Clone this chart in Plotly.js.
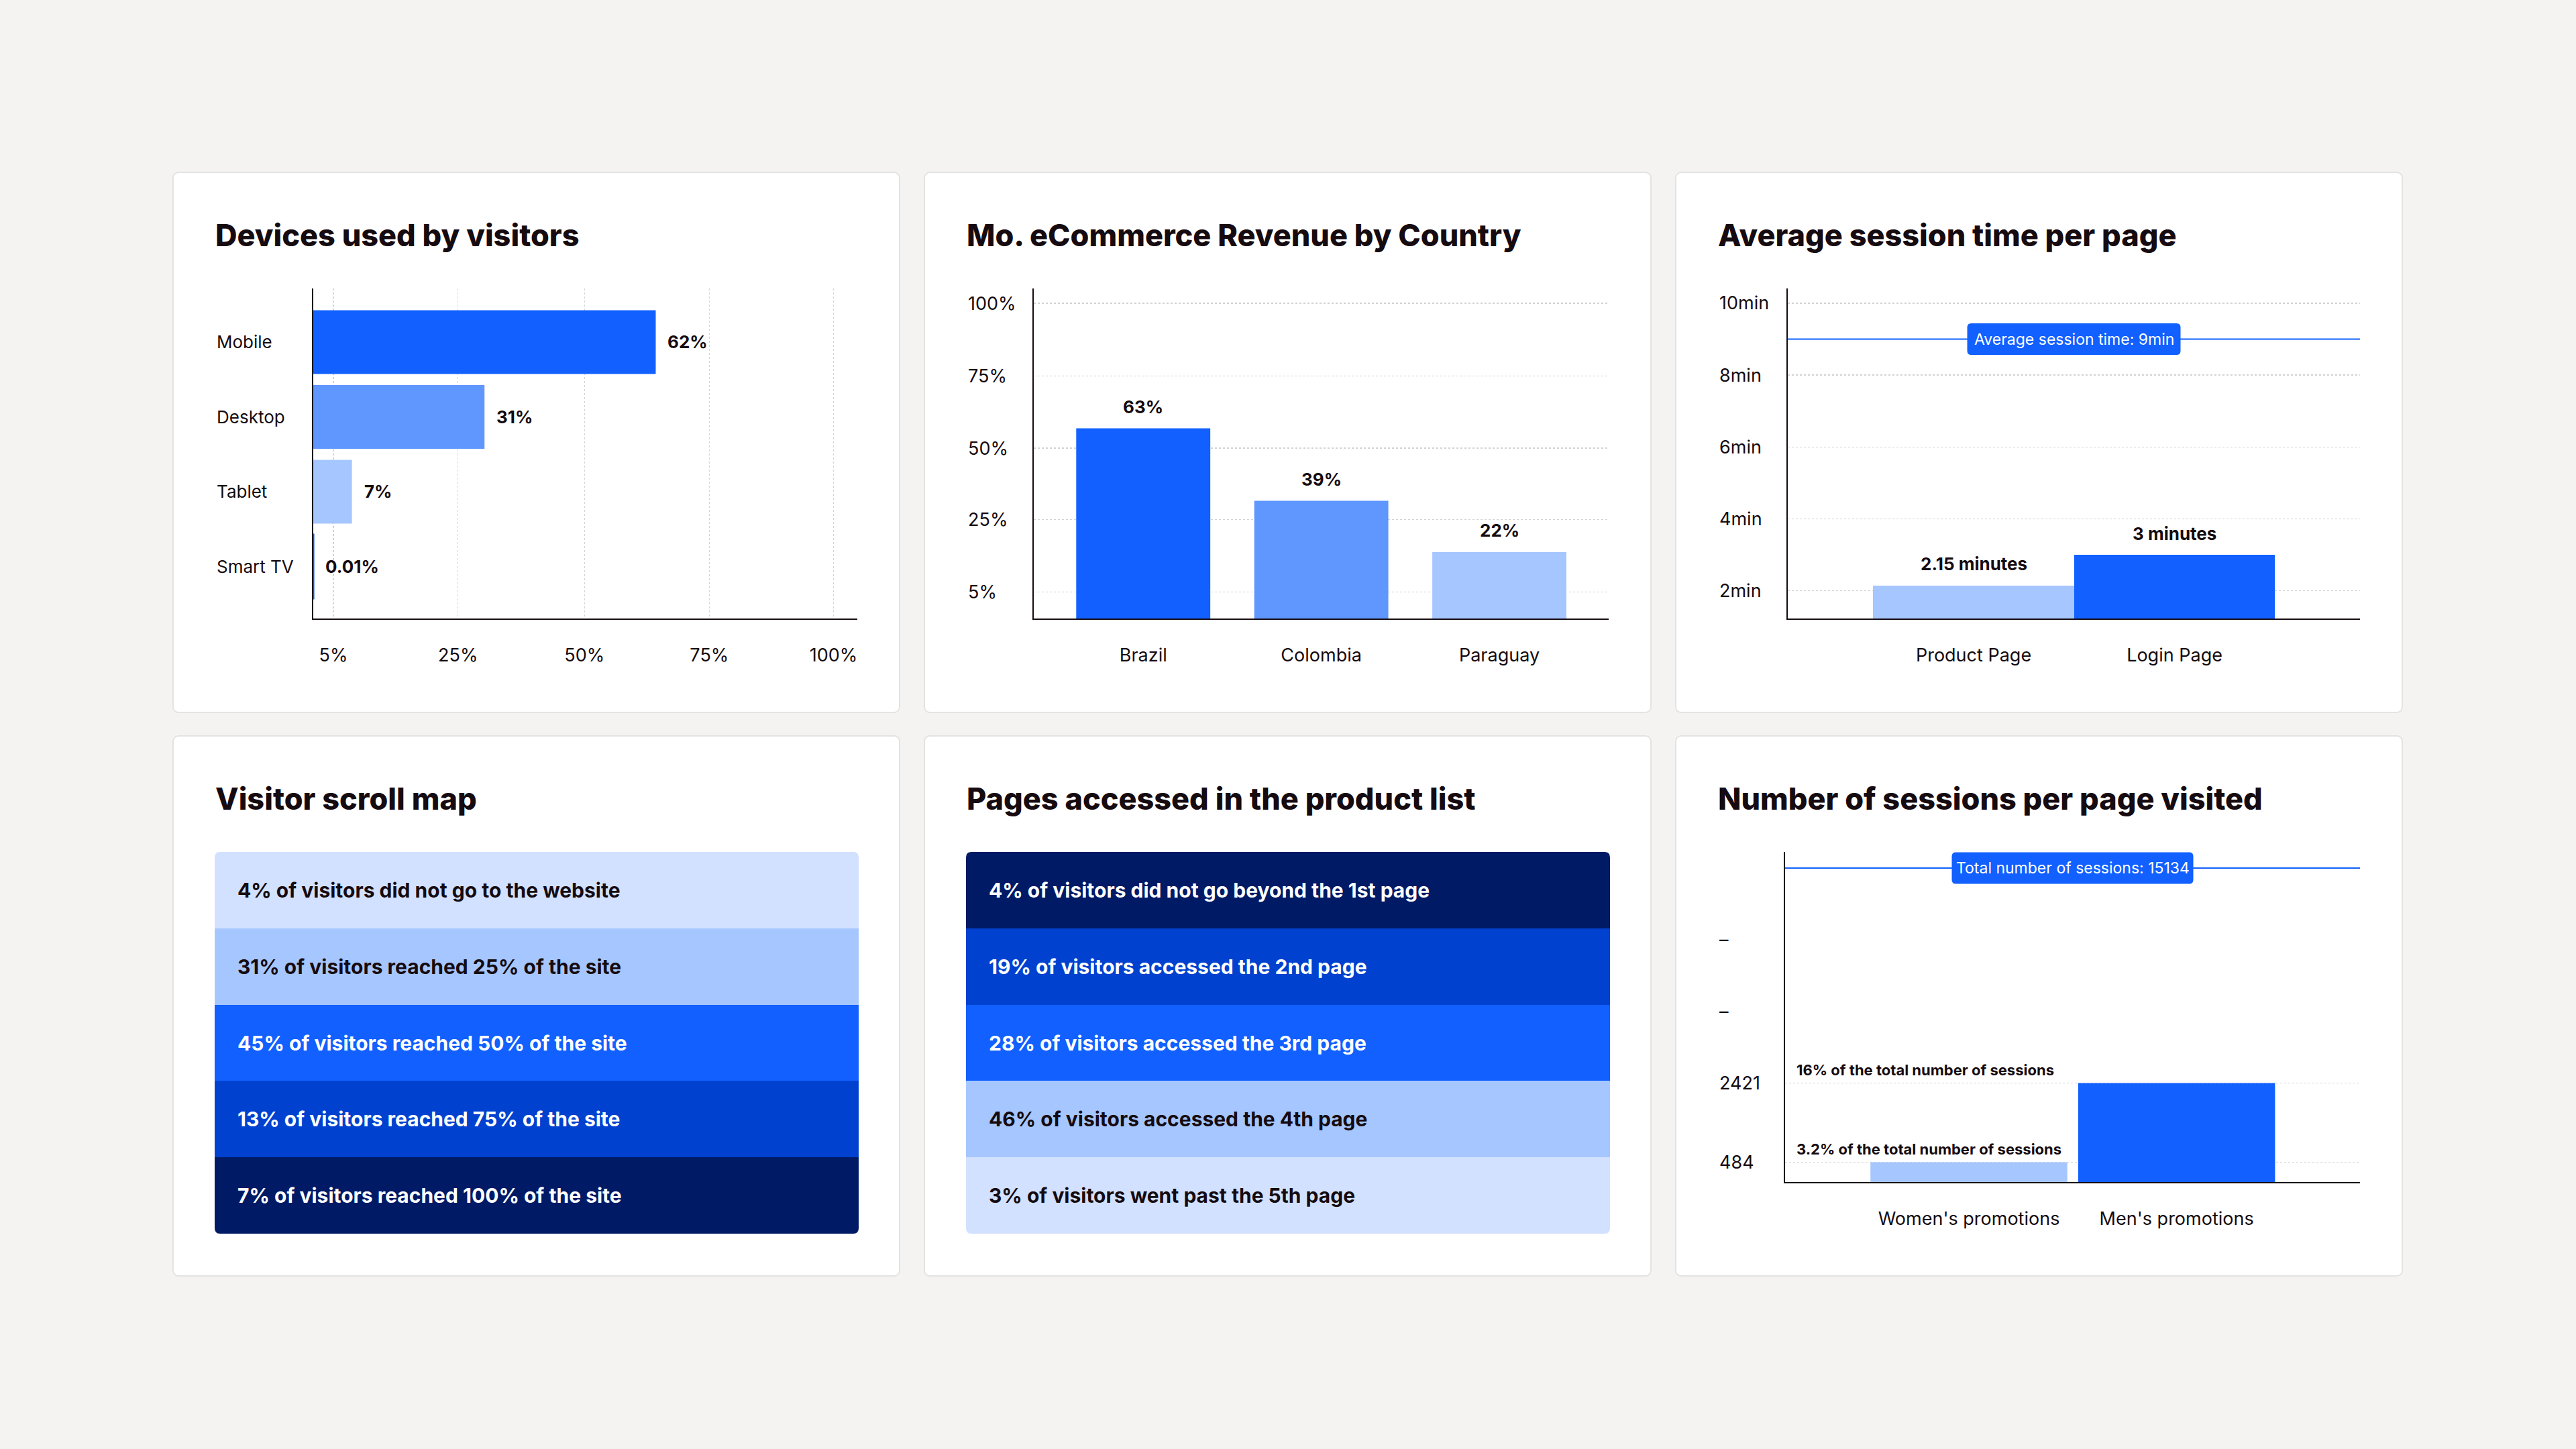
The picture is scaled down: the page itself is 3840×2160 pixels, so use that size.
<!DOCTYPE html>
<html>
<head>
<meta charset="utf-8">
<script src="https://cdn.plot.ly/plotly-3.0.1.min.js"></script>
<style>
  html, body { margin: 0; padding: 0; }
  body { width: 3840px; height: 2160px; background: #f4f3f1; position: relative; overflow: hidden; }
  .card { position: absolute; width: 1085px; height: 807px; box-sizing: border-box; background: #ffffff; border: 2px solid #e4e3e1; border-radius: 9px; }
  .plot { position: absolute; width: 1085px; height: 807px; }
</style>
</head>
<body>
<div class="card" style="left:257px;top:256px"></div>
<div class="card" style="left:1377px;top:256px"></div>
<div class="card" style="left:2497px;top:256px"></div>
<div class="card" style="left:257px;top:1096px"></div>
<div class="card" style="left:1377px;top:1096px"></div>
<div class="card" style="left:2497px;top:1096px"></div>
<div id="p1" class="plot" style="left:257px;top:256px"></div>
<div id="p2" class="plot" style="left:1377px;top:256px"></div>
<div id="p3" class="plot" style="left:2497px;top:256px"></div>
<div id="p4" class="plot" style="left:257px;top:1096px"></div>
<div id="p5" class="plot" style="left:1377px;top:1096px"></div>
<div id="p6" class="plot" style="left:2497px;top:1096px"></div>
<script>
// ---------------- DATA ----------------
const deviceNames = ['Mobile', 'Desktop', 'Tablet', 'Smart TV'];
const deviceShares = [62, 31, 7, 0.01];
const deviceTickLabels = ['5%', '25%', '50%', '75%', '100%'];

const countries = ['Brazil', 'Colombia', 'Paraguay'];
const countryRevenue = [63, 39, 22];
const revenueTickLabels = ['5%', '25%', '50%', '75%', '100%'];

const sessionPages = ['Product Page', 'Login Page'];
const sessionMinutes = [2.15, 3];
const sessionValueLabels = ['2.15 minutes', '3 minutes'];
const avgSessionMinutes = 9;
const sessionTickValues = [2, 4, 6, 8, 10];
const sessionTickLabels = ['2min', '4min', '6min', '8min', '10min'];

const scrollRows = [
  '4% of visitors did not go to the website',
  '31% of visitors reached 25% of the site',
  '45% of visitors reached 50% of the site',
  '13% of visitors reached 75% of the site',
  '7% of visitors reached 100% of the site'
];
const productListRows = [
  '4% of visitors did not go beyond the 1st page',
  '19% of visitors accessed the 2nd page',
  '28% of visitors accessed the 3rd page',
  '46% of visitors accessed the 4th page',
  '3% of visitors went past the 5th page'
];

const promoPages = ["Women's promotions", "Men's promotions"];
const promoSessions = [484, 2421];
const promoShares = ['3.2%', '16%'];
const totalSessions = 15134;
const promoTickLabels = ['484', '2421', '\u2013', '\u2013'];

// ---------------- STYLE ----------------
const TXT = '#150b10';
const BLUE = '#1160ff';
const BLUE_MID = '#5f97ff';
const BLUE_LIGHT = '#a6c6ff';
const BLUE_PALE = '#d2e1ff';
const BLUE_ROYAL = '#0042cf';
const NAVY = '#001a66';
const GRID = '#d2d2d2';
const FONT = 'Inter, "Noto Sans", sans-serif';
const W = 1085, H = 807;
const config = { staticPlot: true, displayModeBar: false };

function baseLayout(title, l, r, t, b) {
  return {
    width: W, height: H,
    margin: { l: l, r: r, t: t, b: b, pad: 0 },
    paper_bgcolor: 'rgba(0,0,0,0)',
    plot_bgcolor: 'rgba(0,0,0,0)',
    showlegend: false,
    font: { family: FONT, color: TXT, size: 27 },
    title: {
      text: title, xref: 'container', yref: 'container',
      x: 64 / W, xanchor: 'left', y: 1 - 95 / H, yanchor: 'middle',
      font: { family: FONT, size: 45, weight: 800, color: TXT }
    },
    annotations: [], shapes: []
  };
}
function valueAxis(extra) {
  return Object.assign({
    showline: true, linecolor: TXT, linewidth: 2,
    showgrid: true, gridcolor: GRID, gridwidth: 1.5, griddash: 'dot',
    zeroline: false, ticks: '', showticklabels: false, fixedrange: true
  }, extra);
}
function catAxis(extra) {
  return Object.assign({
    type: 'category', showline: true, linecolor: TXT, linewidth: 2,
    showgrid: false, zeroline: false, ticks: '', fixedrange: true,
    tickfont: { family: FONT, size: 27, color: TXT }, ticklabelstandoff: 30
  }, extra);
}
function leftLabel(text, y, plotLeft, plotW, size, weight) {
  return {
    xref: 'paper', yref: 'y', x: (64 - plotLeft) / plotW, y: y,
    xanchor: 'left', yanchor: 'middle', text: text, showarrow: false,
    font: { family: FONT, size: size || 27, weight: weight || 400, color: TXT }
  };
}
// rounded box (pixel-sized) centred on an anchor point
function roundedBox(xref, yref, xa, ya, w, h, r, color) {
  const a = w / 2, b = h / 2;
  const p = 'M ' + (-a + r) + ',' + (-b) + ' L ' + (a - r) + ',' + (-b) + ' Q ' + a + ',' + (-b) + ' ' + a + ',' + (-b + r) +
    ' L ' + a + ',' + (b - r) + ' Q ' + a + ',' + b + ' ' + (a - r) + ',' + b +
    ' L ' + (-a + r) + ',' + b + ' Q ' + (-a) + ',' + b + ' ' + (-a) + ',' + (b - r) +
    ' L ' + (-a) + ',' + (-b + r) + ' Q ' + (-a) + ',' + (-b) + ' ' + (-a + r) + ',' + (-b) + ' Z';
  return { type: 'path', xref: xref, yref: yref, xsizemode: 'pixel', ysizemode: 'pixel', xanchor: xa, yanchor: ya,
    path: p, fillcolor: color, line: { width: 0 }, layer: 'above' };
}

// ---------- Panel 1: Devices used by visitors ----------
(function () {
  const l = 210, r = 64, plotW = W - l - r;
  const lay = baseLayout('Devices used by visitors', l, r, 174, 141);
  lay.bargap = 0.148;
  lay.xaxis = valueAxis({ range: [0, 98.5], tickvals: [3.65, 26.2, 49.1, 71.7, 94.2], ticktext: deviceTickLabels,
    showticklabels: true, tickfont: { family: FONT, size: 27, color: TXT }, ticklabelstandoff: 30 });
  lay.yaxis = catAxis({ range: [3.695, -0.717], showticklabels: false });
  deviceNames.forEach((n, i) => {
    lay.annotations.push(leftLabel(n, n, l, plotW, 26));
    lay.annotations.push({ xref: 'x', yref: 'y', x: deviceShares[i], y: n, xanchor: 'left', yanchor: 'middle',
      xshift: 16, text: deviceShares[i] + '%', showarrow: false,
      font: { family: FONT, size: 26, weight: 700, color: TXT } });
  });
  Plotly.newPlot('p1', [{
    type: 'bar', orientation: 'h', y: deviceNames, x: deviceShares,
    marker: { color: [BLUE, BLUE_MID, BLUE_LIGHT, BLUE], line: { width: [0, 0, 0, 3], color: BLUE } }, hoverinfo: 'skip'
  }], lay, config);
})();

// ---------- Panel 2: Revenue by country ----------
(function () {
  const l = 164, r = 64, plotW = W - l - r;
  const lay = baseLayout('Mo. eCommerce Revenue by Country', l, r, 174, 141);
  lay.bargap = 0.247;
  const ticks = [8.8, 32.8, 56.4, 80.3, 104.4];
  lay.xaxis = catAxis({ range: [-0.615, 2.614] });
  lay.yaxis = valueAxis({ range: [0, 109.3], tickvals: ticks });
  ticks.forEach((t, i) => lay.annotations.push(leftLabel(revenueTickLabels[i], t, l, plotW)));
  countries.forEach((c, i) => lay.annotations.push({ x: c, y: countryRevenue[i], xref: 'x', yref: 'y',
    yanchor: 'middle', yshift: 32, text: countryRevenue[i] + '%', showarrow: false,
    font: { family: FONT, size: 26, weight: 700, color: TXT } }));
  Plotly.newPlot('p2', [{
    type: 'bar', x: countries, y: countryRevenue,
    marker: { color: [BLUE, BLUE_MID, BLUE_LIGHT] }, hoverinfo: 'skip'
  }], lay, config);
})();

// ---------- Panel 3: Average session time ----------
(function () {
  const l = 168, r = 64, plotW = W - l - r;
  const lay = baseLayout('Average session time per page', l, r, 174, 141);
  lay.bargap = 0;
  lay.xaxis = catAxis({ range: [-0.925, 1.923] });
  lay.yaxis = valueAxis({ range: [1.23, 10.41], tickvals: sessionTickValues });
  sessionTickValues.forEach((t, i) => lay.annotations.push(leftLabel(sessionTickLabels[i], t, l, plotW)));
  sessionPages.forEach((p, i) => lay.annotations.push({ x: p, y: sessionMinutes[i], xref: 'x', yref: 'y',
    yanchor: 'middle', yshift: 32, text: sessionValueLabels[i], showarrow: false,
    font: { family: FONT, size: 26, weight: 700, color: TXT } }));
  lay.shapes.push({ type: 'line', xref: 'x domain', yref: 'y', x0: 0, x1: 1, y0: avgSessionMinutes, y1: avgSessionMinutes,
    line: { color: BLUE, width: 2 }, layer: 'above' });
  lay.shapes.push(roundedBox('x domain', 'y', 0.5, avgSessionMinutes, 318, 47, 6, BLUE));
  lay.annotations.push({ xref: 'x domain', yref: 'y', x: 0.5, y: avgSessionMinutes, xanchor: 'center', yanchor: 'middle',
    text: 'Average session time: ' + avgSessionMinutes + 'min', showarrow: false,
    font: { family: FONT, size: 23, color: '#ffffff' } });
  Plotly.newPlot('p3', [{
    type: 'bar', x: sessionPages, y: sessionMinutes,
    marker: { color: [BLUE_LIGHT, BLUE] }, hoverinfo: 'skip'
  }], lay, config);
})();

// ---------- Panels 4 & 5: stacked row maps ----------
function rowMap(div, title, rows, colors, textColors) {
  const n = rows.length;
  const idx = rows.map((_, i) => i);
  const lay = baseLayout(title, 63, 62, 174, 63.5);
  lay.xaxis = { range: [-0.5, 0.5], visible: false, fixedrange: true };
  lay.yaxis = { range: [n - 0.5, -0.5], visible: false, fixedrange: true };
  rows.forEach((t, i) => lay.annotations.push({ xref: 'x domain', yref: 'y', x: 0, y: i, xanchor: 'left', yanchor: 'middle',
    xshift: 32, text: t, showarrow: false, font: { family: FONT, size: 30, weight: 700, color: textColors[i] } }));
  // rounded outer corners (white corner masks)
  const rx = 8 / 960, ry = 8 / 569.5;
  const corners = [
    'M 0,' + (1 - ry) + ' L 0,1 L ' + rx + ',1 Q 0,1 0,' + (1 - ry) + ' Z',
    'M ' + (1 - rx) + ',1 L 1,1 L 1,' + (1 - ry) + ' Q 1,1 ' + (1 - rx) + ',1 Z',
    'M 0,' + ry + ' L 0,0 L ' + rx + ',0 Q 0,0 0,' + ry + ' Z',
    'M ' + (1 - rx) + ',0 L 1,0 L 1,' + ry + ' Q 1,0 ' + (1 - rx) + ',0 Z'
  ];
  corners.forEach(p => lay.shapes.push({ type: 'path', xref: 'x domain', yref: 'y domain', path: p,
    fillcolor: '#ffffff', line: { width: 0 }, layer: 'above' }));
  Plotly.newPlot(div, [{
    type: 'heatmap', x: [0], y: idx, z: idx.map(i => [i]),
    colorscale: colors.map((c, i) => [i / (n - 1), c]), zmin: 0, zmax: n - 1,
    showscale: false, hoverinfo: 'skip', xgap: 0, ygap: 0
  }], lay, config);
}
rowMap('p4', 'Visitor scroll map', scrollRows,
  [BLUE_PALE, BLUE_LIGHT, BLUE, BLUE_ROYAL, NAVY], [TXT, TXT, '#ffffff', '#ffffff', '#ffffff']);
rowMap('p5', 'Pages accessed in the product list', productListRows,
  [NAVY, BLUE_ROYAL, BLUE, BLUE_LIGHT, BLUE_PALE], ['#ffffff', '#ffffff', '#ffffff', TXT, TXT]);

// ---------- Panel 6: Sessions per page ----------
(function () {
  const l = 164, r = 64, plotW = W - l - r;
  const lay = baseLayout('Number of sessions per page visited', l, r, 174, 141);
  lay.bargap = 0.052;
  const yMax = promoSessions[1] / 0.2998;
  const totalLineFrac = 0.951;
  const lineVal = totalLineFrac * yMax;
  const step = (lineVal - promoSessions[1]) / 3;
  const tickPos = [promoSessions[0], promoSessions[1], promoSessions[1] + step, promoSessions[1] + 2 * step];
  lay.xaxis = catAxis({ range: [-0.885, 1.883] });
  lay.yaxis = valueAxis({ range: [0, yMax], tickvals: promoSessions });
  tickPos.forEach((t, i) => lay.annotations.push(leftLabel(promoTickLabels[i], t, l, plotW)));
  promoSessions.forEach((v, i) => lay.annotations.push({ xref: 'x domain', yref: 'y', x: 0, y: v,
    xanchor: 'left', yanchor: 'middle', xshift: 15, yshift: 20,
    text: promoShares[i] + ' of the total number of sessions', showarrow: false,
    font: { family: FONT, size: 22, weight: 700, color: TXT } }));
  lay.shapes.push({ type: 'line', xref: 'x domain', yref: 'y domain', x0: 0, x1: 1, y0: totalLineFrac, y1: totalLineFrac,
    line: { color: BLUE, width: 2 }, layer: 'above' });
  lay.shapes.push(roundedBox('x domain', 'y domain', 0.5, totalLineFrac, 360, 47, 6, BLUE));
  lay.annotations.push({ xref: 'x domain', yref: 'y domain', x: 0.5, y: totalLineFrac, xanchor: 'center', yanchor: 'middle',
    text: 'Total number of sessions: ' + totalSessions, showarrow: false,
    font: { family: FONT, size: 23, color: '#ffffff' } });
  Plotly.newPlot('p6', [{
    type: 'bar', x: promoPages, y: promoSessions,
    marker: { color: [BLUE_LIGHT, BLUE] }, hoverinfo: 'skip'
  }], lay, config);
})();
</script>
</body>
</html>
